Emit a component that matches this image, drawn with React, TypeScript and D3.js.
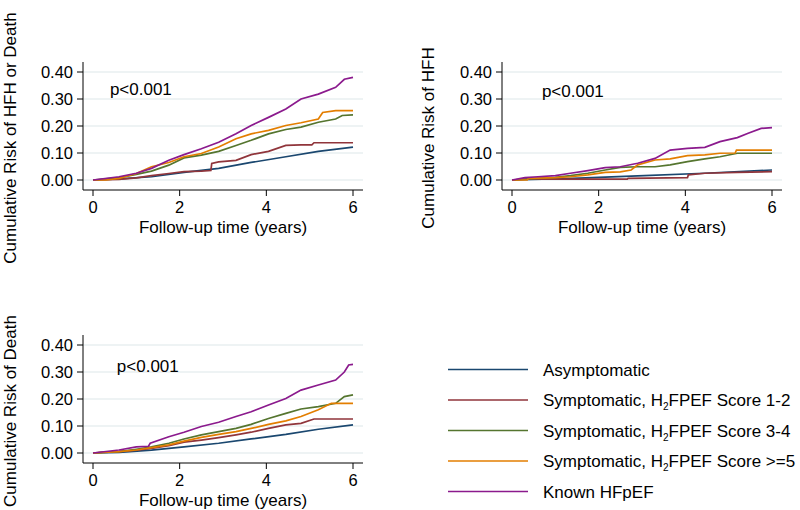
import React from 'react';
import * as d3 from 'd3';

type Pt = [number, number];

// legend / series names
const seriesNames = [
  'Asymptomatic',
  'Symptomatic, H2FPEF Score 1-2',
  'Symptomatic, H2FPEF Score 3-4',
  'Symptomatic, H2FPEF Score >=5',
  'Known HFpEF',
];
const seriesColors = ['#1a476f', '#90353b', '#55752f', '#e37e00', '#8b1a8d'];

const yTicks = [0, 0.1, 0.2, 0.3, 0.4];
const xTicks = [0, 2, 4, 6];

// Panel 1: HFH or death
const hfhDeathAsym: Pt[] = [[0, 0], [0.6, 0.004], [1.35, 0.012], [2.1, 0.028], [2.9, 0.043], [3.65, 0.065], [4.45, 0.086], [5.2, 0.106], [6, 0.122]];
const hfhDeathLow: Pt[] = [[0, 0], [0.6, 0.002], [1.0, 0.008], [1.35, 0.016], [1.75, 0.024], [2.1, 0.031], [2.5, 0.033], [2.72, 0.035], [2.74, 0.061], [2.9, 0.067], [3.3, 0.073], [3.65, 0.094], [4.05, 0.106], [4.45, 0.128], [4.8, 0.13], [5.05, 0.13], [5.1, 0.138], [6, 0.138]];
const hfhDeathMid: Pt[] = [[0, 0], [0.6, 0.009], [1.0, 0.021], [1.35, 0.033], [1.75, 0.055], [2.1, 0.082], [2.5, 0.092], [2.9, 0.106], [3.3, 0.128], [3.65, 0.147], [4.05, 0.171], [4.45, 0.187], [4.8, 0.196], [5.2, 0.214], [5.6, 0.226], [5.75, 0.239], [6, 0.241]];
const hfhDeathHigh: Pt[] = [[0, 0], [0.3, 0], [0.6, 0.006], [1.0, 0.024], [1.35, 0.049], [1.75, 0.065], [2.1, 0.086], [2.5, 0.098], [2.9, 0.122], [3.3, 0.153], [3.65, 0.171], [4.05, 0.184], [4.45, 0.202], [4.8, 0.212], [5.2, 0.226], [5.3, 0.25], [5.6, 0.257], [6, 0.257]];
const hfhDeathKnown: Pt[] = [[0, 0], [0.6, 0.012], [1.0, 0.025], [1.35, 0.043], [1.75, 0.073], [2.1, 0.094], [2.5, 0.116], [2.9, 0.14], [3.3, 0.171], [3.65, 0.202], [4.05, 0.232], [4.45, 0.263], [4.8, 0.3], [5.2, 0.318], [5.6, 0.343], [5.8, 0.373], [6, 0.38]];

// Panel 2: HFH
const hfhAsym: Pt[] = [[0, 0], [1.4, 0.006], [2.9, 0.015], [4.45, 0.025], [6, 0.037]];
const hfhLow: Pt[] = [[0, 0], [0.3, 0.003], [2.66, 0.003], [2.68, 0.006], [4.05, 0.009], [4.07, 0.019], [4.45, 0.025], [5.2, 0.028], [6, 0.031]];
const hfhMid: Pt[] = [[0, 0], [0.6, 0.006], [1.0, 0.01], [1.35, 0.016], [1.75, 0.025], [2.15, 0.037], [2.5, 0.047], [2.9, 0.049], [3.3, 0.049], [3.65, 0.056], [4.05, 0.068], [4.45, 0.078], [4.8, 0.086], [5.2, 0.099], [6, 0.099]];
const hfhHigh: Pt[] = [[0, 0], [0.35, 0], [0.38, 0.006], [1.0, 0.009], [1.35, 0.012], [1.75, 0.019], [2.15, 0.028], [2.5, 0.03], [2.75, 0.037], [2.9, 0.056], [3.3, 0.074], [3.65, 0.078], [4.05, 0.09], [4.45, 0.093], [4.8, 0.099], [5.15, 0.1], [5.18, 0.111], [6, 0.111]];
const hfhKnown: Pt[] = [[0, 0], [0.3, 0.009], [0.6, 0.012], [1.0, 0.016], [1.35, 0.025], [1.75, 0.035], [2.15, 0.046], [2.5, 0.049], [2.9, 0.062], [3.3, 0.08], [3.65, 0.111], [4.05, 0.117], [4.45, 0.121], [4.8, 0.142], [5.2, 0.157], [5.45, 0.173], [5.75, 0.191], [6, 0.194]];

// Panel 3: death
const deathAsym: Pt[] = [[0, 0], [0.6, 0.002], [1.35, 0.011], [2.1, 0.023], [2.9, 0.036], [3.65, 0.052], [4.45, 0.069], [5.2, 0.088], [6, 0.104]];
const deathLow: Pt[] = [[0, 0], [0.3, 0.004], [0.6, 0.005], [1.0, 0.011], [1.35, 0.017], [1.75, 0.027], [2.1, 0.04], [2.5, 0.048], [2.9, 0.057], [3.3, 0.067], [3.65, 0.077], [4.05, 0.091], [4.45, 0.104], [4.8, 0.11], [5.1, 0.126], [6, 0.126]];
const deathMid: Pt[] = [[0, 0], [0.6, 0.005], [1.0, 0.014], [1.35, 0.023], [1.75, 0.036], [2.1, 0.052], [2.5, 0.067], [2.9, 0.079], [3.3, 0.091], [3.65, 0.106], [4.05, 0.128], [4.45, 0.147], [4.8, 0.163], [5.2, 0.172], [5.6, 0.184], [5.8, 0.209], [6, 0.215]];
const deathHigh: Pt[] = [[0, 0], [0.6, 0.005], [1.0, 0.011], [1.35, 0.02], [1.75, 0.03], [2.1, 0.044], [2.5, 0.058], [2.9, 0.069], [3.3, 0.079], [3.65, 0.091], [4.05, 0.106], [4.45, 0.119], [4.8, 0.135], [5.2, 0.16], [5.5, 0.184], [6, 0.184]];
const deathKnown: Pt[] = [[0, 0], [0.6, 0.011], [1.0, 0.023], [1.28, 0.025], [1.32, 0.036], [1.75, 0.06], [2.1, 0.077], [2.5, 0.098], [2.9, 0.114], [3.3, 0.135], [3.65, 0.153], [4.05, 0.178], [4.45, 0.202], [4.8, 0.233], [5.2, 0.252], [5.6, 0.27], [5.8, 0.3], [5.9, 0.326], [6, 0.328]];

const FONT = '"Liberation Sans", Arial, Helvetica, sans-serif';

interface PanelProps {
  axisX: number; // left axis line x
  zeroY: number; // pixel y of value 0
  yTitle: string;
  yTitleX: number;
  series: Pt[][];
  pLabel: Pt; // p-value position in data units
}

const Panel: React.FC<PanelProps> = ({ axisX, zeroY, yTitle, yTitleX, series, pLabel }) => {
  const x = d3.scaleLinear().domain([0, 6]).range([axisX + 10, axisX + 270]);
  const y = d3.scaleLinear().domain([0, 0.4]).range([zeroY, zeroY - 108]);
  const axisY = zeroY + 10;
  const right = axisX + 280;
  const line = d3
    .line<Pt>()
    .x((d) => x(d[0]))
    .y((d) => y(d[1]))
    .curve(d3.curveLinear);

  return (
    <g fontFamily={FONT}>
      {/* grid */}
      {yTicks.map((t) => (
        <line key={'g' + t} x1={axisX} x2={right} y1={y(t)} y2={y(t)} stroke="#e8eff1" strokeWidth={1.3} />
      ))}
      {/* series */}
      {series.map((s, i) => (
        <path key={i} d={line(s) || ''} fill="none" stroke={seriesColors[i]} strokeWidth={1.7} strokeLinejoin="miter" />
      ))}
      {/* axes */}
      <line x1={axisX} x2={axisX} y1={zeroY - 118} y2={axisY} stroke="#000" strokeWidth={1} />
      <line x1={axisX} x2={right} y1={axisY} y2={axisY} stroke="#000" strokeWidth={1} />
      {yTicks.map((t) => (
        <g key={'y' + t}>
          <line x1={axisX - 6} x2={axisX} y1={y(t)} y2={y(t)} stroke="#000" />
          <text x={axisX - 10} y={y(t) + 5.5} textAnchor="end" fontSize={16.5}>
            {d3.format('.2f')(t)}
          </text>
        </g>
      ))}
      {xTicks.map((t) => (
        <g key={'x' + t}>
          <line x1={x(t)} x2={x(t)} y1={axisY} y2={axisY + 6} stroke="#000" />
          <text x={x(t)} y={axisY + 23} textAnchor="middle" fontSize={16.5}>
            {t}
          </text>
        </g>
      ))}
      <text x={(axisX + right) / 2} y={axisY + 43} textAnchor="middle" fontSize={17}>
        Follow-up time (years)
      </text>
      <text
        transform={`translate(${yTitleX},${axisY - 52}) rotate(-90)`}
        textAnchor="middle"
        fontSize={17}
      >
        {yTitle}
      </text>
      <text x={x(pLabel[0])} y={y(pLabel[1])} fontSize={17}>
        p&lt;0.001
      </text>
    </g>
  );
};

const Legend: React.FC<{ x0: number; y0: number }> = ({ x0, y0 }) => (
  <g fontFamily={FONT} fontSize={17}>
    {seriesNames.map((name, i) => {
      const cy = y0 + i * 30.5;
      const parts = name.split('H2FPEF');
      return (
        <g key={name}>
          <line x1={x0} x2={x0 + 80} y1={cy} y2={cy} stroke={seriesColors[i]} strokeWidth={1.7} />
          <text x={x0 + 95} y={cy + 6}>
            {parts.length > 1 ? (
              <>
                {parts[0]}H
                <tspan fontSize={10} dy={4}>2</tspan>
                <tspan dy={-4}>FPEF{parts[1]}</tspan>
              </>
            ) : (
              name
            )}
          </text>
        </g>
      );
    })}
  </g>
);

export default function App() {
  return (
    <div style={{ position: 'absolute', left: 0, top: 0 }}>
      <svg width={800} height={510} style={{ display: 'block', background: '#fff' }}>
        <Panel
          axisX={83}
          zeroY={180}
          yTitle="Cumulative Risk of HFH or Death"
          yTitleX={16}
          series={[hfhDeathAsym, hfhDeathLow, hfhDeathMid, hfhDeathHigh, hfhDeathKnown]}
          pLabel={[0.39, 0.315]}
        />
        <Panel
          axisX={502}
          zeroY={180}
          yTitle="Cumulative Risk of HFH"
          yTitleX={434}
          series={[hfhAsym, hfhLow, hfhMid, hfhHigh, hfhKnown]}
          pLabel={[0.69, 0.307]}
        />
        <Panel
          axisX={83}
          zeroY={453}
          yTitle="Cumulative Risk of Death"
          yTitleX={16}
          series={[deathAsym, deathLow, deathMid, deathHigh, deathKnown]}
          pLabel={[0.55, 0.3]}
        />
        <Legend x0={448} y0={369.5} />
      </svg>
    </div>
  );
}
